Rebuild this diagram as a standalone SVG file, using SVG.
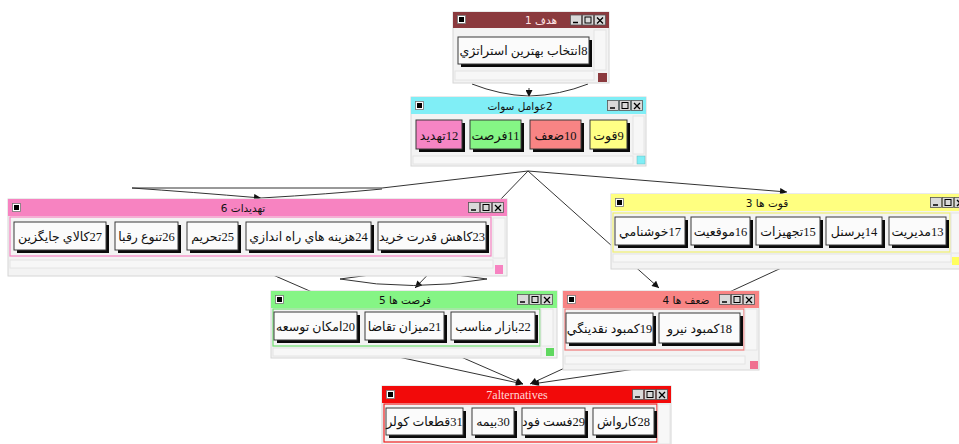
<svg xmlns="http://www.w3.org/2000/svg" xmlns:xlink="http://www.w3.org/1999/xlink" width="959" height="444" viewBox="0 0 959 444">
<style>
.bg{fill:#ffffff}
.win{fill:#f3f3f3;stroke:#d6d6d6;stroke-width:1}
.sb{fill:#f7f7f7;stroke:#e4e4e4;stroke-width:1}
.tt{font-family:"DejaVu Sans","Noto Sans",sans-serif;font-size:10.5px;text-anchor:middle;fill:#111;direction:rtl}
.bt{font-family:"Liberation Serif","DejaVu Sans",serif;font-size:12.5px;text-anchor:middle;fill:#111;direction:rtl}
.face{stroke:#3a3a3a;stroke-width:1}
.shd{fill:#0a0a0a}
.w{fill:#fbfbfb}
.edge{fill:none;stroke:#333;stroke-width:1}
</style>
<defs>
<marker id="ah" viewBox="0 0 10 10" refX="10" refY="5" markerWidth="8" markerHeight="7" markerUnits="userSpaceOnUse" orient="auto"><path d="M0,0 L10,5 L0,10 z" fill="#111"/></marker>
<symbol id="ctl" viewBox="0 0 37 11" width="37" height="11" overflow="visible">
<rect x="0.5" y="0.5" width="11" height="10" fill="#d9d9d9" stroke="#555" stroke-width="0.8"/>
<path d="M3,8 H8" stroke="#000" stroke-width="1.5"/>
<rect x="12.5" y="0.5" width="11" height="10" fill="#d9d9d9" stroke="#555" stroke-width="0.8"/>
<rect x="15" y="2.5" width="6" height="6" fill="none" stroke="#000" stroke-width="1"/>
<rect x="24.5" y="0.5" width="11" height="10" fill="#d9d9d9" stroke="#555" stroke-width="0.8"/>
<path d="M27,3 L33,9 M33,3 L27,9" stroke="#000" stroke-width="1.3"/>
</symbol>
<symbol id="ico" viewBox="0 0 9 9" width="9" height="9">
<rect x="0.5" y="0.5" width="8" height="8" fill="#fff" stroke="#777" stroke-width="0.8"/>
<rect x="2" y="2" width="5" height="5" fill="#000"/>
</symbol>
</defs>
<rect class="bg" x="0" y="0" width="959" height="444"/>

<g id="connectors">
<path class="edge" d="M472,84 Q500,95 528,96"/>
<path class="edge" d="M588,84 Q560,95 530,96"/>
<path class="edge" d="M529,88 L529,97" marker-end="url(#ah)"/>
<path class="edge" d="M528,171 L787,192" marker-end="url(#ah)"/>
<path class="edge" d="M528,171 L659,288" marker-end="url(#ah)"/>
<path class="edge" d="M528,171 L415,288" marker-end="url(#ah)"/>
<path class="edge" d="M528,171 L382,188 L132,188 Q190,192 261,198" marker-end="url(#ah)"/>
<path class="edge" d="M382,189 Q330,194 261,198"/>
<path class="edge" d="M340,279 Q413,266 487,279 Q413,292 340,279 Z"/>
<path class="edge" d="M257,268 L523,384" marker-end="url(#ah)"/>
<path class="edge" d="M380,353 L523,384" marker-end="url(#ah)"/>
<path class="edge" d="M790,264 L530,384" marker-end="url(#ah)"/>
<path class="edge" d="M690,361 L532,384" marker-end="url(#ah)"/>
</g>

<g id="node1">
<rect class="win" x="453" y="12" width="156" height="71"/>
<rect x="453" y="12" width="156" height="16" fill="#8b3a3e"/>
<use xlink:href="#ico" x="457" y="15"/>
<use xlink:href="#ctl" x="570" y="14.5"/>
<text class="tt" x="541" y="24" style="fill:#ffe4e4">هدف 1</text>
<rect class="sb" x="594" y="30" width="12" height="40"/>
<rect class="sb" x="455" y="71" width="139" height="9"/>
<rect x="598" y="73" width="9" height="9" fill="#8b3a3e"/>
<rect class="shd" x="461" y="40" width="131" height="27"/>
<rect class="face w" x="458" y="37" width="131" height="27"/>
<text class="bt" x="523.5" y="55">8انتخاب بهترين استراتژي</text>
</g>

<g id="node2">
<rect class="win" x="411" y="97" width="235" height="69"/>
<rect x="411" y="97" width="235" height="17" fill="#80eef6"/>
<use xlink:href="#ico" x="415" y="101"/>
<use xlink:href="#ctl" x="607" y="100"/>
<text class="tt" x="520" y="109.5">2عوامل سوات</text>
<rect class="sb" x="633" y="116" width="11" height="38"/>
<rect class="sb" x="413" y="156" width="220" height="8"/>
<rect x="637" y="156" width="8" height="8" fill="#80eef6" stroke="#6bb" stroke-width="0.5"/>
<rect class="shd" x="419" y="123" width="46" height="29"/>
<rect class="face" x="416" y="120" width="46" height="29" fill="#f585c4"/>
<text class="bt" x="439" y="139.5">12تهديد</text>
<rect class="shd" x="473" y="123" width="51" height="29"/>
<rect class="face" x="470" y="120" width="51" height="29" fill="#85f585"/>
<text class="bt" x="495.5" y="139.5">11فرصت</text>
<rect class="shd" x="533" y="123" width="51" height="29"/>
<rect class="face" x="530" y="120" width="51" height="29" fill="#f88484"/>
<text class="bt" x="555.5" y="139.5">10ضعف</text>
<rect class="shd" x="593" y="123" width="37" height="29"/>
<rect class="face" x="590" y="120" width="37" height="29" fill="#ffff85"/>
<text class="bt" x="608.5" y="139.5">9قوت</text>
</g>

<g id="node6">
<rect class="win" x="8" y="199" width="499" height="77"/>
<rect x="8" y="199" width="499" height="17" fill="#f783c1"/>
<use xlink:href="#ico" x="12" y="203"/>
<use xlink:href="#ctl" x="468" y="202"/>
<text class="tt" x="243" y="211.5">تهديدات 6</text>
<rect x="10" y="217" width="481" height="39" fill="none" stroke="#f783c1" stroke-width="1.2"/>
<rect class="sb" x="493" y="218" width="12" height="40"/>
<rect class="sb" x="10" y="260" width="483" height="8"/>
<rect x="495" y="265" width="8" height="9" fill="#f783c1"/>
<rect class="shd" x="17" y="225" width="92" height="28"/>
<rect class="face w" x="14" y="222" width="92" height="28"/>
<text class="bt" x="60" y="240.5">27كالاي جايگزين</text>
<rect class="shd" x="118" y="225" width="63" height="28"/>
<rect class="face w" x="115" y="222" width="63" height="28"/>
<text class="bt" x="146.5" y="240.5">26تنوع رقبا</text>
<rect class="shd" x="190" y="225" width="51" height="28"/>
<rect class="face w" x="187" y="222" width="51" height="28"/>
<text class="bt" x="212.5" y="240.5">25تحريم</text>
<rect class="shd" x="249" y="225" width="125" height="28"/>
<rect class="face w" x="246" y="222" width="125" height="28"/>
<text class="bt" x="308.5" y="240.5">24هزينه هاي راه اندازي</text>
<rect class="shd" x="381" y="225" width="108" height="28"/>
<rect class="face w" x="378" y="222" width="108" height="28"/>
<text class="bt" x="432" y="240.5">23كاهش قدرت خريد</text>
</g>

<g id="node3">
<rect class="win" x="611" y="194" width="360" height="75"/>
<rect x="611" y="194" width="360" height="17" fill="#ffff80"/>
<use xlink:href="#ico" x="615" y="198"/>
<use xlink:href="#ctl" x="930" y="197"/>
<text class="tt" x="767" y="206.5">قوت ها 3</text>
<rect x="613" y="213" width="337" height="39" fill="none" stroke="#f0f070" stroke-width="1.2"/>
<rect class="sb" x="951" y="213" width="12" height="40"/>
<rect class="sb" x="613" y="254" width="338" height="8"/>
<rect x="952" y="257" width="8" height="8" fill="#ffff60"/>
<rect class="shd" x="618" y="220" width="70" height="28"/>
<rect class="face w" x="615" y="217" width="70" height="28"/>
<text class="bt" x="650" y="235.5">17خوشنامي</text>
<rect class="shd" x="694" y="220" width="59" height="28"/>
<rect class="face w" x="691" y="217" width="59" height="28"/>
<text class="bt" x="720.5" y="235.5">16موقعيت</text>
<rect class="shd" x="759" y="220" width="64" height="28"/>
<rect class="face w" x="756" y="217" width="64" height="28"/>
<text class="bt" x="788" y="235.5">15تجهيزات</text>
<rect class="shd" x="829" y="220" width="56" height="28"/>
<rect class="face w" x="826" y="217" width="56" height="28"/>
<text class="bt" x="854" y="235.5">14پرسنل</text>
<rect class="shd" x="892" y="220" width="57" height="28"/>
<rect class="face w" x="889" y="217" width="57" height="28"/>
<text class="bt" x="917.5" y="235.5">13مديريت</text>
</g>

<g id="node5">
<rect class="win" x="271" y="291" width="286" height="67"/>
<rect x="271" y="291" width="286" height="17" fill="#85f585"/>
<use xlink:href="#ico" x="275" y="295"/>
<use xlink:href="#ctl" x="517" y="294"/>
<text class="tt" x="405" y="303.5">فرصت ها 5</text>
<rect x="273" y="309" width="267" height="37" fill="none" stroke="#70e070" stroke-width="1.2"/>
<rect class="sb" x="541" y="309" width="12" height="37"/>
<rect class="sb" x="273" y="348" width="268" height="8"/>
<rect x="546" y="348" width="8" height="8" fill="#60d860"/>
<rect class="shd" x="277" y="315" width="83" height="28"/>
<rect class="face w" x="274" y="312" width="83" height="28"/>
<text class="bt" x="315.5" y="330.5">20امكان توسعه</text>
<rect class="shd" x="368" y="315" width="79" height="28"/>
<rect class="face w" x="365" y="312" width="79" height="28"/>
<text class="bt" x="404.5" y="330.5">21ميزان تقاضا</text>
<rect class="shd" x="454" y="315" width="84" height="28"/>
<rect class="face w" x="451" y="312" width="84" height="28"/>
<text class="bt" x="493" y="330.5">22بازار مناسب</text>
</g>

<g id="node4">
<rect class="win" x="563" y="291" width="196" height="79"/>
<rect x="563" y="291" width="196" height="17" fill="#f88484"/>
<use xlink:href="#ico" x="567" y="295"/>
<use xlink:href="#ctl" x="719" y="294"/>
<text class="tt" x="686" y="303.5">ضعف ها 4</text>
<rect x="565" y="309" width="179" height="41" fill="none" stroke="#f07878" stroke-width="1.2"/>
<rect class="sb" x="745" y="309" width="12" height="41"/>
<rect class="sb" x="565" y="356" width="180" height="8"/>
<rect x="750" y="361" width="8" height="8" fill="#f07090"/>
<rect class="shd" x="569" y="316" width="87" height="30"/>
<rect class="face w" x="566" y="313" width="87" height="30"/>
<text class="bt" x="609.5" y="332.5">19كمبود نقدينگي</text>
<rect class="shd" x="662" y="316" width="81" height="30"/>
<rect class="face w" x="659" y="313" width="81" height="30"/>
<text class="bt" x="699.5" y="332.5">18كمبود نيرو</text>
</g>

<g id="node7">
<rect class="win" x="382" y="386" width="289" height="70"/>
<rect x="382" y="386" width="289" height="17" fill="#f20a0a"/>
<use xlink:href="#ico" x="386" y="390"/>
<use xlink:href="#ctl" x="632" y="389"/>
<text x="517" y="398.5" style="font-family:'Liberation Serif',serif;font-size:12px;text-anchor:middle;fill:#ffd8d8">7alternatives</text>
<rect x="384" y="404" width="273" height="38" fill="none" stroke="#f02020" stroke-width="1.2"/>
<rect class="sb" x="658" y="404" width="12" height="40"/>
<rect class="shd" x="389" y="411" width="77" height="27"/>
<rect class="face w" x="386" y="408" width="77" height="27"/>
<text class="bt" x="424.5" y="426">31قطعات كولر</text>
<rect class="shd" x="475" y="411" width="42" height="27"/>
<rect class="face w" x="472" y="408" width="42" height="27"/>
<text class="bt" x="493" y="426">30بيمه</text>
<rect class="shd" x="525" y="411" width="63" height="27"/>
<rect class="face w" x="522" y="408" width="63" height="27"/>
<text class="bt" x="553.5" y="426">29فست فود</text>
<rect class="shd" x="596" y="411" width="61" height="27"/>
<rect class="face w" x="593" y="408" width="61" height="27"/>
<text class="bt" x="623.5" y="426">28كارواش</text>
</g>
</svg>
